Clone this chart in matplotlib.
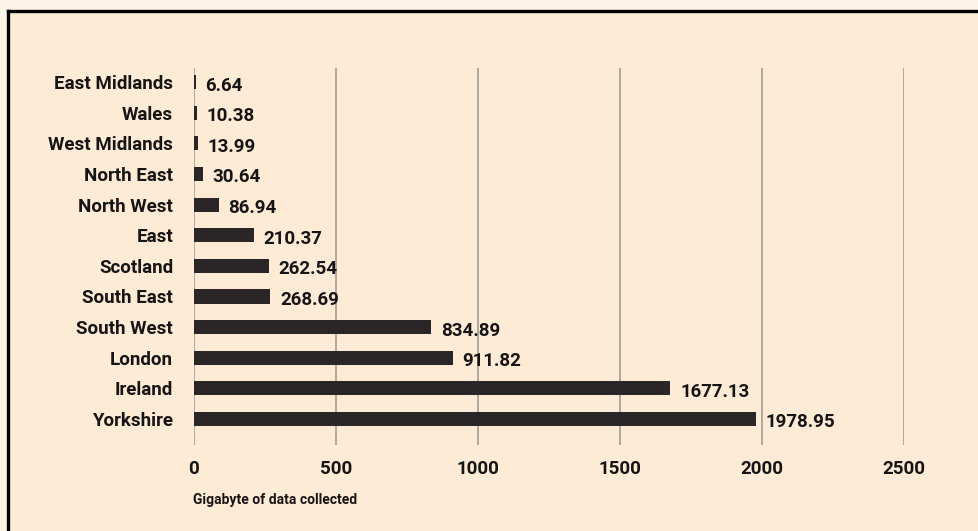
import matplotlib
matplotlib.use("Agg")
import matplotlib.pyplot as plt
from matplotlib.patches import Rectangle

plt.rcParams['font.family'] = ['Roboto', 'DejaVu Sans']

# data, top to bottom as shown
regions = ['East Midlands', 'Wales', 'West Midlands', 'North East', 'North West',
           'East', 'Scotland', 'South East', 'South West', 'London', 'Ireland',
           'Yorkshire']
gigabytes = [6.64, 10.38, 13.99, 30.64, 86.94, 210.37, 262.54, 268.69,
             834.89, 911.82, 1677.13, 1978.95]
xticks = [0, 500, 1000, 1500, 2000, 2500]

outer_bg = '#fdf4e8'
inner_bg = '#fdebd6'
bar_col = '#2a2628'
txt_col = '#161414'
fs = 13.5

fig = plt.figure(figsize=(9.79, 5.31), dpi=100)
fig.patch.set_facecolor(outer_bg)

# panel with a black frame on top and left
fig.patches.append(Rectangle((8.5 / 979, 0), 1, 1 - 10.5 / 531, transform=fig.transFigure,
                             facecolor=inner_bg, edgecolor='none', zorder=-2))
fig.lines.append(plt.Line2D([8.5 / 979, 8.5 / 979], [0, 1 - 10.5 / 531], transform=fig.transFigure,
                            color='black', lw=2.4, solid_capstyle='projecting', zorder=-1))
fig.lines.append(plt.Line2D([8.5 / 979, 1], [1 - 10.5 / 531, 1 - 10.5 / 531], transform=fig.transFigure,
                            color='black', lw=2.4, solid_capstyle='projecting', zorder=-1))

ax = fig.add_axes([194 / 979, 1 - 445 / 531, (904 - 194) / 979, (445 - 68) / 531])
ax.set_facecolor('none')
ax.set_zorder(2)

n = len(regions)
ypos = list(range(n - 1, -1, -1))
ax.barh(ypos, gigabytes, height=0.46, color=bar_col, zorder=3)

for y, v in zip(ypos, gigabytes):
    ax.annotate(f'{v:.2f}', (v, y), xytext=(7, -2.5), textcoords='offset points',
                ha='left', va='center', fontsize=fs, fontweight='bold',
                color=txt_col, annotation_clip=False)

ax.set_xlim(0, 2500)
ax.set_ylim(-0.85, n - 1 + 0.46)
ax.set_xticks(xticks)
ax.set_xticklabels([str(t) for t in xticks], fontsize=fs, fontweight='bold', color=txt_col)
ax.set_yticks(ypos)
ax.set_yticklabels(regions, fontsize=fs, fontweight='bold', color=txt_col)
ax.tick_params(axis='x', length=0, pad=11)
ax.tick_params(axis='y', length=0, pad=15)
ax.grid(axis='x', color='#a8a39c', lw=1.3, zorder=1)
ax.set_axisbelow(True)
for s in ax.spines.values():
    s.set_visible(False)

ax.text(-1 / 710, -0.145, 'Gigabyte of data collected', transform=ax.transAxes,
        ha='left', va='center', fontsize=10, fontweight='bold', color=txt_col)

fig.savefig('out.png', dpi=100, facecolor=outer_bg)
